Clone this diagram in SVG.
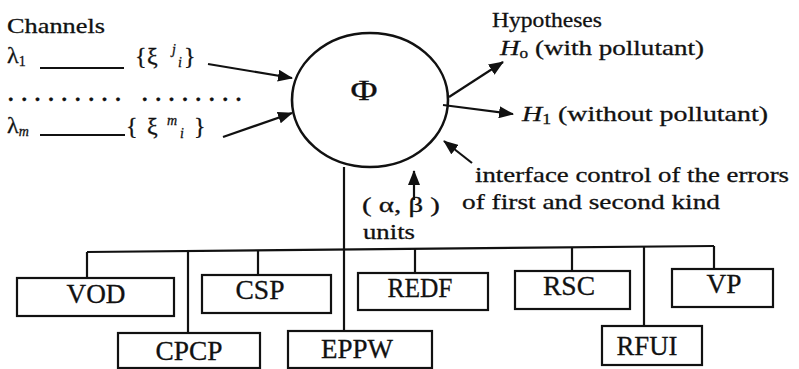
<svg xmlns="http://www.w3.org/2000/svg" width="799" height="369" viewBox="0 0 799 369">
  <style>
    .t { font-family: "Liberation Serif", "Times New Roman", Times, serif; font-size: 22px; fill: #111; stroke: #111; stroke-width: 0.3; }
    .sub { font-size: 14px; }
    .big { font-size: 24px; }
    .it { font-style: italic; }
    .box { fill: #fff; stroke: #111; stroke-width: 2.2; }
    .bt { font-family: "Liberation Serif", "Times New Roman", Times, serif; font-size: 27px; fill: #111; stroke: #111; stroke-width: 0.3; text-anchor: middle; }
    .ln { stroke: #111; stroke-width: 2.2; fill: none; }
    .arr { stroke: #111; stroke-width: 2.2; fill: none; marker-end: url(#head); }
  </style>
  <defs>
    <marker id="head" markerWidth="15" markerHeight="12" refX="14" refY="6" orient="auto" markerUnits="userSpaceOnUse">
      <path d="M0,0 L15,6 L0,12 z" fill="#111"/>
    </marker>
  </defs>
  <rect width="799" height="369" fill="#fff"/>

  <!-- channel inputs -->
  <g id="channels">
    <text class="t" x="7" y="33" textLength="98" lengthAdjust="spacingAndGlyphs">Channels</text>
    <text class="t big" x="7" y="63">λ<tspan class="sub" dy="3">1</tspan></text>
    <line class="ln" x1="40" y1="68" x2="124" y2="68"/>
    <text class="t big" y="64"><tspan x="135">{</tspan><tspan x="147">ξ</tspan><tspan class="sub it" x="172" y="54">j</tspan><tspan class="sub it" x="178" y="67">i</tspan><tspan x="184" y="64">}</tspan></text>
    <text class="t" x="8" y="101" letter-spacing="7.9" font-weight="bold">......... ........</text>
    <text class="t big" x="7" y="133">λ<tspan class="sub it" dy="3">m</tspan></text>
    <line class="ln" x1="40" y1="135" x2="125" y2="135"/>
    <text class="t big" y="134"><tspan x="126">{</tspan><tspan x="147">ξ</tspan><tspan class="sub it" x="167" y="125">m</tspan><tspan class="sub it" x="180" y="138">i</tspan><tspan x="194" y="134">}</tspan></text>
  </g>

  <!-- decision operator -->
  <g id="phi">
    <ellipse cx="370" cy="100" rx="78" ry="67" fill="#fff" stroke="#111" stroke-width="2.6"/>
    <text class="t" x="364" y="100" style="font-size:30px" text-anchor="middle" textLength="27" lengthAdjust="spacingAndGlyphs">Φ</text>
  </g>

  <!-- hypotheses and error control -->
  <g id="hypotheses">
    <text class="t" x="492" y="27" textLength="110" lengthAdjust="spacingAndGlyphs">Hypotheses</text>
    <text class="t" x="500" y="55" textLength="204" lengthAdjust="spacingAndGlyphs"><tspan class="it">H</tspan><tspan class="sub" dy="3">o</tspan><tspan dy="-3"> (with pollutant)</tspan></text>
    <text class="t" x="522" y="121" textLength="246" lengthAdjust="spacingAndGlyphs"><tspan class="it">H</tspan><tspan class="sub" dy="3">1</tspan><tspan dy="-3"> (without pollutant)</tspan></text>
  </g>
  <g id="error-control">
    <text class="t" x="475" y="182" textLength="314" lengthAdjust="spacingAndGlyphs">interface control of the errors</text>
    <text class="t" x="462" y="209" textLength="258" lengthAdjust="spacingAndGlyphs">of first and second kind</text>
  </g>
  <g id="alpha-beta">
    <text class="t" x="362" y="212" textLength="78" lengthAdjust="spacingAndGlyphs">( α, β )</text>
    <text class="t" x="363" y="239" textLength="52" lengthAdjust="spacingAndGlyphs">units</text>
  </g>

  <!-- connectors -->
  <g id="connectors">
    <line class="arr" x1="208" y1="64" x2="292" y2="78"/>
    <line class="arr" x1="223" y1="137" x2="292" y2="113"/>
    <line class="arr" x1="449" y1="97" x2="503" y2="62"/>
    <line class="arr" x1="443" y1="105" x2="513" y2="114"/>
    <line class="arr" x1="472" y1="163" x2="444" y2="141"/>
    <line class="arr" x1="414" y1="200" x2="414" y2="171"/>
    <!-- bus to the units -->
    <line class="ln" x1="87" y1="252" x2="714" y2="246"/>
    <line class="ln" x1="344" y1="167" x2="344" y2="331"/>
    <line class="ln" x1="87" y1="252" x2="87" y2="278"/>
    <line class="ln" x1="188" y1="251" x2="188" y2="333"/>
    <line class="ln" x1="258" y1="250" x2="258" y2="275"/>
    <line class="ln" x1="415" y1="248" x2="415" y2="273"/>
    <line class="ln" x1="572" y1="247" x2="572" y2="271"/>
    <line class="ln" x1="644" y1="246" x2="644" y2="326"/>
    <line class="ln" x1="714" y1="246" x2="714" y2="269"/>
  </g>

  <!-- units -->
  <g id="VOD"><rect class="box" x="17" y="278" width="157" height="38"/><text class="bt" x="96" y="303" textLength="59" lengthAdjust="spacingAndGlyphs">VOD</text></g>
  <g id="CSP"><rect class="box" x="202" y="275" width="129" height="38"/><text class="bt" x="260" y="299" textLength="49" lengthAdjust="spacingAndGlyphs">CSP</text></g>
  <g id="REDF"><rect class="box" x="358" y="273" width="130" height="37"/><text class="bt" x="420" y="297" textLength="65" lengthAdjust="spacingAndGlyphs">REDF</text></g>
  <g id="RSC"><rect class="box" x="515" y="271" width="115" height="38"/><text class="bt" x="569" y="295" textLength="52" lengthAdjust="spacingAndGlyphs">RSC</text></g>
  <g id="VP"><rect class="box" x="672" y="269" width="101" height="38"/><text class="bt" x="724" y="293" textLength="35" lengthAdjust="spacingAndGlyphs">VP</text></g>
  <g id="CPCP"><rect class="box" x="118" y="333" width="142" height="35"/><text class="bt" x="189" y="360" textLength="67" lengthAdjust="spacingAndGlyphs">CPCP</text></g>
  <g id="EPPW"><rect class="box" x="288" y="331" width="144" height="37"/><text class="bt" x="357" y="358" textLength="72" lengthAdjust="spacingAndGlyphs">EPPW</text></g>
  <g id="RFUI"><rect class="box" x="602" y="326" width="100" height="39"/><text class="bt" x="647" y="355" textLength="61" lengthAdjust="spacingAndGlyphs">RFUI</text></g>
</svg>
